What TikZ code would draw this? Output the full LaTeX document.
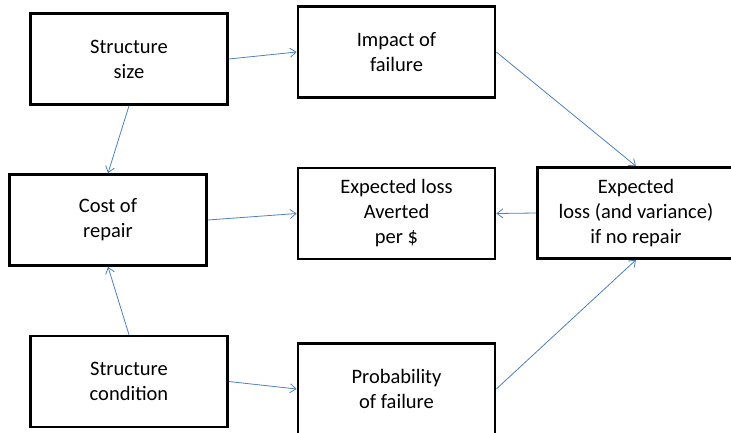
\documentclass[tikz,border=0pt]{standalone}
\usepackage{fontspec}
\setmainfont{Carlito}
\usetikzlibrary{arrows.meta}
\definecolor{arrowblue}{HTML}{4F81BD}
\begin{document}
\begin{tikzpicture}[x=1pt,y=-1pt,
  box/.style={draw=black, line width=2.6pt, minimum width=197pt, minimum height=91pt,
    inner sep=0pt, align=center, font=\fontsize{20.5}{25}\selectfont},
  link/.style={draw=arrowblue, line width=0.8pt, -{Straight Barb[length=6pt,width=9pt]}}]
\useasboundingbox (0,0) rectangle (731,432);
\clip (0,0) rectangle (731,432);
\fill[white] (0,0) rectangle (731,432);
\node[box] (size) at (129,59) {Structure\\size};
\node[box] (impact) at (396.5,52) {Impact of\\failure};
\node[box] (cost) at (108,220) {Cost of\\repair};
\node[box] (averted) at (396.5,213.5) {Expected loss\\Averted\\per \$};
\node[box] (exploss) at (636,213) {Expected\\loss (and variance)\\if no repair};
\node[box] (cond) at (129,381.5) {Structure\\condition};
\node[box] (prob) at (396.5,389) {Probability\\of failure};
\draw[link] (size.east) -- (impact.west);
\draw[link] (size.south) -- (cost.north);
\draw[link] (cost.east) -- (averted.west);
\draw[link] (exploss.west) -- (averted.east);
\draw[link] (impact.east) -- (exploss.north);
\draw[link] (cond.north) -- (cost.south);
\draw[link] (cond.east) -- (prob.west);
\draw[link] (prob.east) -- (exploss.south);
\end{tikzpicture}
\end{document}
